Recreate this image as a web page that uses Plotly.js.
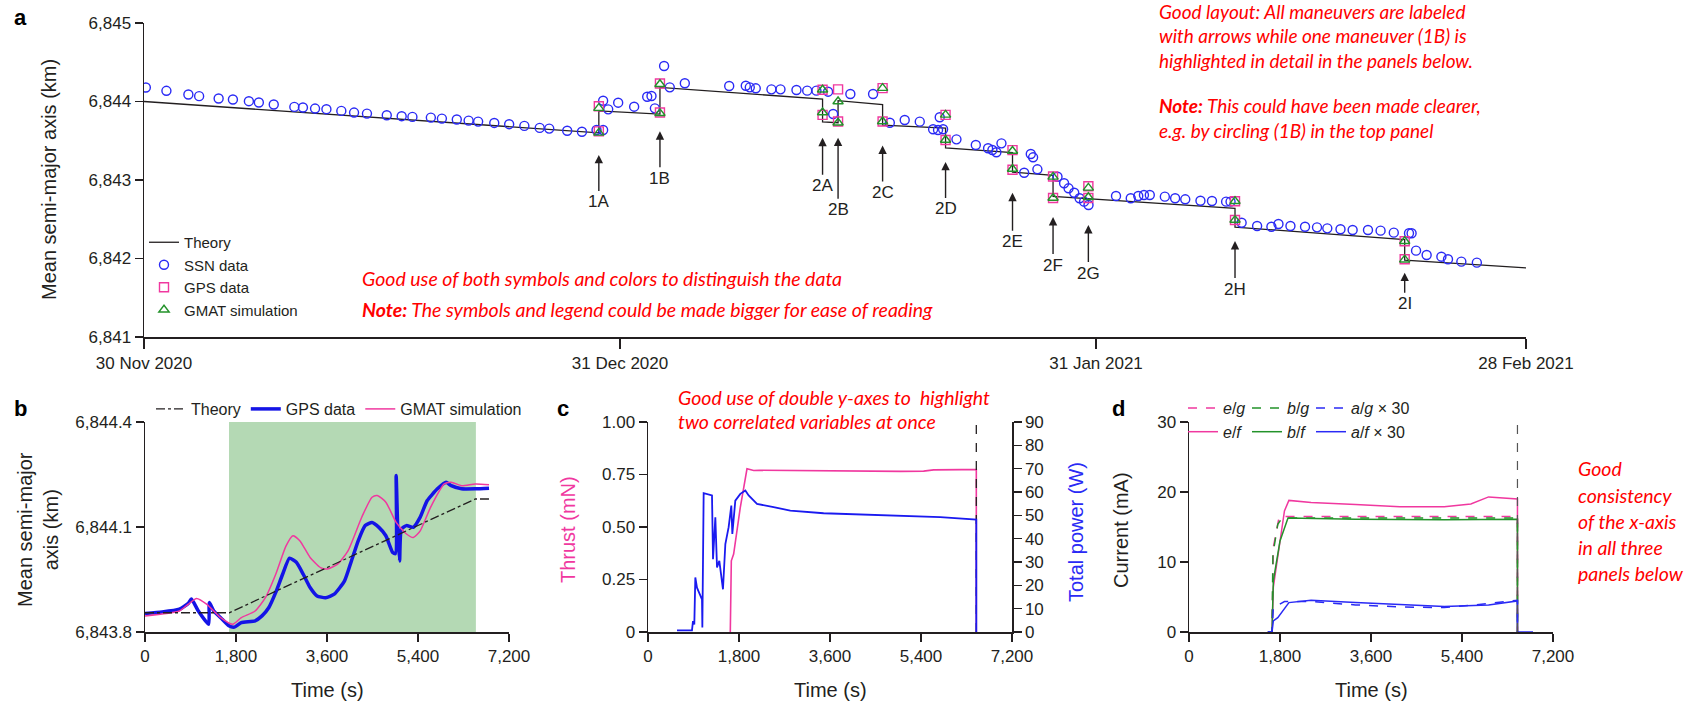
<!DOCTYPE html>
<html><head><meta charset="utf-8">
<script src="https://cdn.plot.ly/plotly-3.0.1.min.js"></script>
<style>html,body{margin:0;padding:0;background:#fff}#chart{width:1696px;height:703px}</style>
</head><body><div id="chart"></div>
<script>
// ---------------- Panel a data (days since 30 Nov 2020) ----------------
const dateTickDays = [0, 31, 62, 90];
const dateTickText = ['30 Nov 2020', '31 Dec 2020', '31 Jan 2021', '28 Feb 2021'];

const theoryDay = [0, 29.62, 29.62, 33.6, 33.6, 44.19, 44.19, 45.2, 45.2, 48.1, 48.1, 52.2, 52.2, 56.56, 56.56, 59.2, 59.2, 61.5, 71.05, 71.05, 82.1, 82.1, 90];
const theoryValue = [6844.00, 6843.60, 6843.88, 6843.84, 6844.18, 6844.03, 6843.74, 6843.73, 6844.01, 6843.96, 6843.70, 6843.66, 6843.41, 6843.35, 6843.10, 6843.06, 6842.79, 6842.76, 6842.64, 6842.40, 6842.24, 6841.98, 6841.88];

const ssnDay = [0.12, 1.46, 2.89, 3.59, 4.86, 5.79, 6.83, 7.48, 8.45, 9.79, 10.35, 11.14, 11.88, 12.85, 13.68, 14.52, 15.81, 16.78, 17.48, 18.68, 19.40, 20.37, 21.14, 21.76, 22.81, 23.78, 24.77, 25.77, 26.39,
  27.56, 28.52, 29.47, 29.9, 29.9, 30.23, 30.88, 31.92, 32.77, 33.05, 33.27, 33.87, 34.24, 35.22, 38.11, 39.19, 39.45, 39.84, 40.86, 41.45, 42.49, 43.19, 43.79, 44.55, 44.88, 46.0, 47.48, 48.57, 49.54, 50.52, 51.39, 51.71, 52.04, 51.82, 52.91, 54.17, 54.97, 55.25, 55.51, 55.84,
  57.75, 57.9, 57.32, 58.18, 59.49, 59.92, 60.21, 60.58, 60.93, 61.22, 61.51, 63.3, 64.26, 64.75, 65.12, 65.5, 66.48, 67.15, 67.81, 68.8, 69.55, 70.47, 70.76, 71.48, 72.49, 73.42, 73.88, 74.66, 75.61, 76.39, 77.06, 77.92, 78.71, 79.71, 80.53, 81.39, 82.38, 82.55, 82.84, 83.53, 84.49, 84.92, 85.79, 86.8];
const ssnValue = [6844.178, 6844.136, 6844.089, 6844.068, 6844.038, 6844.025, 6844.004, 6843.987, 6843.962, 6843.931, 6843.923, 6843.910, 6843.902, 6843.880, 6843.859, 6843.846, 6843.825, 6843.813, 6843.804, 6843.795, 6843.782, 6843.770, 6843.757, 6843.744, 6843.727, 6843.711, 6843.689, 6843.664, 6843.655,
  6843.628, 6843.615, 6843.637, 6843.637, 6844.010, 6843.90, 6843.985, 6843.934, 6844.061, 6844.07, 6843.913, 6844.452, 6844.18, 6844.232, 6844.197, 6844.20, 6844.18, 6844.168, 6844.155, 6844.155, 6844.146, 6844.138, 6844.138, 6844.125, 6843.841, 6844.096, 6844.096, 6843.73, 6843.764, 6843.743, 6843.646, 6843.637, 6843.646, 6843.80, 6843.518, 6843.446, 6843.404, 6843.382, 6843.353, 6843.467,
  6843.331, 6843.289, 6843.093, 6843.136, 6843.042, 6842.958, 6842.894, 6842.838, 6842.767, 6842.724, 6842.682, 6842.796, 6842.767, 6842.796, 6842.809, 6842.809, 6842.788, 6842.767, 6842.754, 6842.736, 6842.732, 6842.724, 6842.724, 6842.456, 6842.414, 6842.405, 6842.439, 6842.414, 6842.405, 6842.397, 6842.384, 6842.372, 6842.363, 6842.363, 6842.355, 6842.329, 6842.321, 6842.321, 6842.10, 6842.045, 6842.023, 6841.99, 6841.96, 6841.947];

const maneuverLabels = ['1A', '1B', '2A', '2B', '2C', '2D', '2E', '2F', '2G', '2H', '2I'];
const maneuverDay = [29.62, 33.6, 44.19, 45.2, 48.1, 52.2, 56.56, 59.2, 61.5, 71.05, 82.1];
const gpsPre  = [6843.62, 6843.86, 6844.15, 6843.745, 6844.17, 6843.83, 6843.38, 6843.045, 6842.77, 6842.73, 6842.22];
const gpsPost = [6843.94, 6844.23, 6843.83, 6844.155, 6843.745, 6843.51, 6843.13, 6842.77, 6842.92, 6842.49, 6841.99];
const gmatPre  = [6843.60, 6843.85, 6844.15, 6843.73, 6844.17, 6843.83, 6843.37, 6843.04, 6842.78, 6842.73, 6842.22];
const gmatPost = [6843.915, 6844.22, 6843.86, 6844.00, 6843.745, 6843.51, 6843.14, 6842.77, 6842.90, 6842.49, 6841.985];

// ---------------- Panel b data (time in s) ----------------
const timeTicks = [0, 1800, 3600, 5400, 7200];
const timeTickText = ['0', '1,800', '3,600', '5,400', '7,200'];
const burnStart = 1662, burnEnd = 6545;
const bTheoryT = [0, 1667, 6533, 6805];
const bTheoryV = [6843.855, 6843.855, 6844.180, 6844.180];
const bGpsT = [0, 340, 681, 851, 919, 1055, 1259, 1273, 1361, 1497, 1667, 1769, 1905, 2178, 2314, 2450, 2586, 2722, 2858, 2994, 3130, 3266, 3403, 3573, 3743, 3947, 4083, 4219, 4355, 4491, 4627, 4764, 4900, 4954, 4968, 5002, 5036, 5070, 5172, 5308, 5444, 5580, 5784, 5955, 6057, 6261, 6533, 6805];
const bGpsV = [6843.853, 6843.857, 6843.865, 6843.881, 6843.894, 6843.860, 6843.822, 6843.884, 6843.860, 6843.841, 6843.817, 6843.814, 6843.827, 6843.832, 6843.846, 6843.870, 6843.913, 6843.965, 6844.011, 6843.999, 6843.965, 6843.927, 6843.903, 6843.898, 6843.908, 6843.946, 6844.003, 6844.061, 6844.104, 6844.113, 6844.099, 6844.075, 6844.027, 6844.024, 6844.247, 6844.080, 6844.003, 6844.094, 6844.104, 6844.099, 6844.128, 6844.175, 6844.209, 6844.228, 6844.218, 6844.209, 6844.209, 6844.211];
const bGmatT = [0, 681, 851, 1021, 1225, 1497, 1735, 1905, 2178, 2382, 2586, 2790, 2926, 3062, 3266, 3471, 3607, 3811, 4015, 4287, 4491, 4593, 4764, 4968, 5172, 5308, 5444, 5648, 5920, 6057, 6261, 6533, 6805];
const bGmatV = [6843.846, 6843.860, 6843.879, 6843.896, 6843.879, 6843.841, 6843.822, 6843.841, 6843.860, 6843.898, 6843.965, 6844.046, 6844.075, 6844.061, 6844.013, 6843.984, 6843.980, 6843.994, 6844.032, 6844.128, 6844.185, 6844.190, 6844.171, 6844.113, 6844.080, 6844.070, 6844.089, 6844.156, 6844.223, 6844.228, 6844.218, 6844.223, 6844.221];

// ---------------- Panel c data ----------------
const cEnd = 6494;
const thrustT = [1628, 1648, 1694, 1760, 1826, 1958, 2090, 2200, 3000, 4000, 5000, 5452, 5650, 6200, 6441, 6494, 6494];
const thrustV = [0, 0.339, 0.371, 0.482, 0.594, 0.777, 0.769, 0.770, 0.768, 0.768, 0.765, 0.766, 0.772, 0.773, 0.774, 0.774, 0];
const powerT = [574, 870, 890, 916, 936, 969, 1068, 1075, 1101, 1266, 1286, 1332, 1365, 1411, 1483, 1530, 1595, 1648, 1668, 1727, 1826, 1925, 1991, 2156, 2485, 2815, 3474, 4463, 5123, 5782, 6494, 6494];
const powerV = [0.7, 0.7, 4.7, 3.2, 23.4, 19, 14, 1.9, 59.5, 58.5, 31.2, 49.2, 27.7, 30.5, 18.3, 37.7, 44.9, 54.2, 42, 56.3, 59.2, 60.6, 58.5, 54.9, 53.5, 52, 50.9, 50.3, 49.6, 49.2, 48.2, 0];

// ---------------- Panel d data ----------------
const dEnd = 6497;
const efT = [1560, 1642, 1668, 1888, 1976, 2415, 3293, 4171, 5049, 5575, 5926, 6190, 6497, 6497];
const efV = [0, 0, 6.4, 17.3, 18.8, 18.5, 18.2, 17.9, 17.9, 18.3, 19.3, 19.2, 19.0, 0];
const egT = [1560, 1642, 1668, 1782, 1888, 3293, 5049, 6497, 6497];
const egV = [0, 0, 12.1, 16.4, 16.5, 16.5, 16.4, 16.5, 0];
const bfT = [1560, 1642, 1668, 1800, 1958, 3293, 5049, 6497, 6497];
const bfV = [0, 0, 7.3, 13.0, 16.3, 16.1, 16.05, 16.1, 0];
const bgT = [1560, 1642, 1660, 1756, 1844, 6497, 6497];
const bgV = [0, 0, 11.1, 15.4, 16.3, 16.3, 0];
const afT = [1560, 1642, 1668, 1756, 1976, 2415, 3293, 4171, 5049, 5926, 6497, 6497, 6805];
const afV = [0, 0, 1.6, 2.05, 4.2, 4.54, 4.2, 3.87, 3.63, 3.87, 4.44, 0, 0];
const agT = [1560, 1642, 1668, 1888, 2415, 3293, 4171, 5049, 5926, 6497, 6497];
const agV = [0, 0, 3.49, 4.35, 4.35, 3.87, 3.58, 3.49, 4.06, 4.54, 0];

// ---------------- Notes (text) ----------------
const notesTopRight = ['Good layout: All maneuvers are labeled', 'with arrows while one maneuver (1B) is', 'highlighted in detail in the panels below.', '', '<b>Note:</b> This could have been made clearer,', 'e.g. by circling (1B) in the top panel'];
const notesPanelA = ['Good use of both symbols and colors to distinguish the data', '<b>Note:</b> The symbols and legend could be made bigger for ease of reading'];
const notesPanelC = ['Good use of double y-axes to  highlight', 'two correlated variables at once'];
const notesRight = ['Good', 'consistency', 'of the x-axis', 'in all three', 'panels below'];

// ---------------- helpers & styling ----------------
const W = 1696, H = 703;
const px = x => x / W;
const py = y => 1 - y / H;
function toDate(d) {
  const t = new Date(Date.UTC(2020, 10, 30) + d * 86400000);
  return t.toISOString().slice(0, 19).replace('T', ' ');
}
const FONT = 'Liberation Sans, Arial, Helvetica, sans-serif';
const NOTE_FONT = 'Lato, Open Sans, sans-serif';
const INK = '#231f20';
const BLUE = '#2a2af5', MAGENTA = '#f0389f', GREEN = '#23922a';

const arrowLen = [47, 47, 48, 72, 47, 47, 49, 48, 48, 48, 31];
const arrowGap = [22, 18, 23, 15, 24, 22, 23, 19, 27, 21, 13];
const notesTopY = [12, 36, 60, 84, 106, 130];

const axBase = {
  showline: true, linecolor: INK, linewidth: 1.5, ticks: 'outside', tickcolor: INK, tickwidth: 1.5, ticklen: 8,
  showgrid: false, zeroline: false, tickfont: {family: FONT, size: 17, color: INK}, fixedrange: true
};

const traces = [];
// Panel a
traces.push({x: theoryDay.map(toDate), y: theoryValue, xaxis: 'x', yaxis: 'y', mode: 'lines', name: 'Theory', legend: 'legend',
  line: {color: INK, width: 1.3}});
traces.push({x: ssnDay.map(toDate), y: ssnValue, xaxis: 'x', yaxis: 'y', mode: 'markers', name: 'SSN data', legend: 'legend',
  marker: {symbol: 'circle-open', size: 9, color: BLUE, line: {width: 1.4}}});
traces.push({x: maneuverDay.concat(maneuverDay).map(toDate), y: gpsPre.concat(gpsPost), xaxis: 'x', yaxis: 'y', mode: 'markers', name: 'GPS data', legend: 'legend',
  marker: {symbol: 'square-open', size: 9, color: MAGENTA, line: {width: 1.4}}});
traces.push({x: maneuverDay.concat(maneuverDay).map(toDate), y: gmatPre.concat(gmatPost), xaxis: 'x', yaxis: 'y', mode: 'markers', name: 'GMAT simulation', legend: 'legend',
  marker: {symbol: 'triangle-up-open', size: 9, color: GREEN, line: {width: 1.4}}});
// Panel b
traces.push({x: bGpsT, y: bGpsV, xaxis: 'x2', yaxis: 'y2', mode: 'lines', name: 'GPS data', legend: 'legend2', legendrank: 2,
  line: {color: '#1414e6', width: 3.5, shape: 'spline', smoothing: 0.5}});
traces.push({x: bGmatT, y: bGmatV, xaxis: 'x2', yaxis: 'y2', mode: 'lines', name: 'GMAT simulation', legend: 'legend2', legendrank: 3,
  line: {color: MAGENTA, width: 1.5, shape: 'spline', smoothing: 0.6}});
traces.push({x: bTheoryT, y: bTheoryV, xaxis: 'x2', yaxis: 'y2', mode: 'lines', name: 'Theory', legend: 'legend2', legendrank: 1,
  line: {color: INK, width: 1.3, dash: 'dashdot'}});
// Panel c
traces.push({x: thrustT, y: thrustV, xaxis: 'x3', yaxis: 'y3', mode: 'lines', showlegend: false, line: {color: MAGENTA, width: 1.6}});
traces.push({x: powerT, y: powerV, xaxis: 'x3', yaxis: 'y4', mode: 'lines', showlegend: false, line: {color: '#1a1af0', width: 1.8}});
traces.push({x: [cEnd, cEnd], y: [0, 1], xaxis: 'x3', yaxis: 'y3', mode: 'lines', showlegend: false, line: {color: INK, width: 1.3, dash: 'dash'}});
// Panel d (one legend per column: e, b, a)
traces.push({x: egT, y: egV, xaxis: 'x4', yaxis: 'y5', mode: 'lines', name: '<i>e</i>/<i>g</i>', legend: 'legend3', line: {color: MAGENTA, width: 1.5, dash: 'dash'}});
traces.push({x: efT, y: efV, xaxis: 'x4', yaxis: 'y5', mode: 'lines', name: '<i>e</i>/<i>f</i>', legend: 'legend3', line: {color: MAGENTA, width: 1.5}});
traces.push({x: bgT, y: bgV, xaxis: 'x4', yaxis: 'y5', mode: 'lines', name: '<i>b</i>/<i>g</i>', legend: 'legend4', line: {color: GREEN, width: 1.5, dash: 'dash'}});
traces.push({x: bfT, y: bfV, xaxis: 'x4', yaxis: 'y5', mode: 'lines', name: '<i>b</i>/<i>f</i>', legend: 'legend4', line: {color: GREEN, width: 1.5}});
traces.push({x: agT, y: agV, xaxis: 'x4', yaxis: 'y5', mode: 'lines', name: '<i>a</i>/<i>g</i> × 30', legend: 'legend5', line: {color: BLUE, width: 1.5, dash: 'dash'}});
traces.push({x: afT, y: afV, xaxis: 'x4', yaxis: 'y5', mode: 'lines', name: '<i>a</i>/<i>f</i> × 30', legend: 'legend5', line: {color: BLUE, width: 1.5}});
traces.push({x: [dEnd, dEnd], y: [0, 30], xaxis: 'x4', yaxis: 'y5', mode: 'lines', showlegend: false, line: {color: '#555', width: 1.2, dash: 'dash'}});

// annotations
const ann = [];
function txt(x, y, text, opts) {
  ann.push(Object.assign({xref: 'paper', yref: 'paper', x: px(x), y: py(y), text: text, showarrow: false,
    xanchor: 'center', yanchor: 'middle', font: {family: FONT, size: 20, color: INK}}, opts || {}));
}
// panel letters
txt(20, 18, '<b>a</b>', {font: {family: FONT, size: 22, color: '#000'}});
txt(20, 408, '<b>b</b>', {font: {family: FONT, size: 22, color: '#000'}});
txt(563, 408, '<b>c</b>', {font: {family: FONT, size: 22, color: '#000'}});
txt(1118, 408, '<b>d</b>', {font: {family: FONT, size: 22, color: '#000'}});
// axis titles
txt(49, 180, 'Mean semi-major axis (km)', {textangle: -90});
txt(38, 530, 'Mean semi-major<br>axis (km)', {textangle: -90});
txt(327, 690, 'Time (s)');
txt(830, 690, 'Time (s)');
txt(1371, 690, 'Time (s)');
txt(568, 530, 'Thrust (mN)', {textangle: -90, font: {family: FONT, size: 20, color: MAGENTA}});
txt(1076, 532, 'Total power (W)', {textangle: -90, font: {family: FONT, size: 20, color: '#2a2af5'}});
txt(1121, 530, 'Current (mA)', {textangle: -90});
// notes
const noteFont = {family: NOTE_FONT, size: 19.5, color: '#ff0000'};
const topFont = {family: NOTE_FONT, size: 19, color: '#ff0000'};
notesTopRight.forEach((t, i) => { if (t) txt(1157, notesTopY[i], '<i>' + t + '</i>', {xanchor: 'left', font: topFont}); });
notesPanelA.forEach((t, i) => txt(360, 279 + 30 * i, '<i>' + t + '</i>', {xanchor: 'left', font: noteFont}));
notesPanelC.forEach((t, i) => txt(676, 397 + 25 * i, '<i>' + t + '</i>', {xanchor: 'left', font: noteFont}));
notesRight.forEach((t, i) => txt(1576, 469 + 26.2 * i, '<i>' + t + '</i>', {xanchor: 'left', font: noteFont}));
// maneuver arrows
maneuverLabels.forEach((lab, i) => {
  ann.push({xref: 'x', yref: 'y', x: toDate(maneuverDay[i]),
    y: Math.min(gpsPre[i], gpsPost[i], gmatPre[i], gmatPost[i]), yshift: -arrowGap[i],
    text: lab, showarrow: true, ax: 0, ay: arrowLen[i], arrowhead: 2, arrowsize: 1.2, arrowwidth: 1.4, arrowcolor: INK,
    standoff: 0, font: {family: FONT, size: 17, color: INK}});
});

const legendBase = {bgcolor: 'rgba(0,0,0,0)', borderwidth: 0, font: {family: FONT, size: 16, color: INK}, itemclick: false, itemdoubleclick: false, tracegroupgap: 0};
const colLegend = x => Object.assign({}, legendBase, {x: px(x), y: py(391), xanchor: 'left', yanchor: 'top'});

const layout = {
  width: W, height: H, margin: {l: 0, r: 0, t: 0, b: 0}, paper_bgcolor: '#fff', plot_bgcolor: 'rgba(0,0,0,0)',
  hovermode: false, dragmode: false,
  xaxis: Object.assign({}, axBase, {type: 'date', domain: [px(144), px(1526)], anchor: 'y',
    range: [toDate(0), toDate(90)], tickvals: dateTickDays.map(toDate), ticktext: dateTickText, ticklen: 10}),
  yaxis: Object.assign({}, axBase, {domain: [py(337), py(23)], anchor: 'x', range: [6841, 6845],
    tickvals: [6841, 6842, 6843, 6844, 6845], tickformat: ',d'}),
  xaxis2: Object.assign({}, axBase, {domain: [px(145), px(509)], anchor: 'y2', range: [0, 7200], tickvals: timeTicks, ticktext: timeTickText}),
  yaxis2: Object.assign({}, axBase, {domain: [py(632), py(422)], anchor: 'x2', range: [6843.8, 6844.4],
    tickvals: [6843.8, 6844.1, 6844.4], tickformat: ',.1f'}),
  xaxis3: Object.assign({}, axBase, {domain: [px(648), px(1012)], anchor: 'y3', range: [0, 7200], tickvals: timeTicks, ticktext: timeTickText}),
  yaxis3: Object.assign({}, axBase, {domain: [py(632), py(422)], anchor: 'x3', range: [0, 1],
    tickvals: [0, 0.25, 0.5, 0.75, 1], ticktext: ['0', '0.25', '0.50', '0.75', '1.00']}),
  yaxis4: Object.assign({}, axBase, {overlaying: 'y3', side: 'right', anchor: 'x3', range: [0, 90], dtick: 10, tick0: 0}),
  xaxis4: Object.assign({}, axBase, {domain: [px(1189), px(1553)], anchor: 'y5', range: [0, 7200], tickvals: timeTicks, ticktext: timeTickText}),
  yaxis5: Object.assign({}, axBase, {domain: [py(632), py(422)], anchor: 'x4', range: [0, 30], tickvals: [0, 10, 20, 30]}),
  shapes: [{type: 'rect', xref: 'x2', yref: 'y2 domain', x0: burnStart, x1: burnEnd, y0: 0, y1: 1, layer: 'below',
    fillcolor: '#b4d9b4', line: {width: 0}}],
  annotations: ann,
  legend: Object.assign({}, legendBase, {x: px(144), y: py(226), xanchor: 'left', yanchor: 'top', font: {family: FONT, size: 15, color: INK}}),
  legend2: Object.assign({}, legendBase, {orientation: 'h', x: px(151), y: py(409), xanchor: 'left', yanchor: 'middle', traceorder: 'normal'}),
  legend3: colLegend(1183),
  legend4: colLegend(1247),
  legend5: colLegend(1311)
};

Plotly.newPlot('chart', traces, layout, {staticPlot: true, displayModeBar: false});
</script></body></html>
